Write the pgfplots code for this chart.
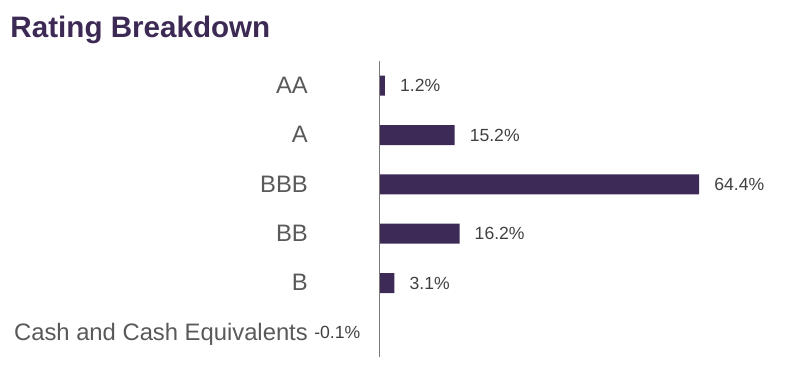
\documentclass[border=0pt]{standalone}
\usepackage{pgfplots}
\pgfplotsset{compat=1.18}
\usepackage{fontspec}
\setmainfont{Liberation Sans}
\definecolor{barpurple}{RGB}{62,42,86}
\definecolor{titlepurple}{RGB}{60,42,85}
\definecolor{catgray}{RGB}{89,89,89}
\definecolor{valgray}{RGB}{64,64,64}
\definecolor{axisgray}{RGB}{120,120,120}
\begin{document}
\begin{tikzpicture}[x=1bp,y=1bp]
\useasboundingbox (0,0) rectangle (786,373);
\node[anchor=base west, inner sep=0pt, text=titlepurple, font=\bfseries\fontsize{29.6bp}{33bp}\selectfont] at (10.3,336) {Rating Breakdown};
\begin{axis}[
  at={(374.03bp,16bp)}, anchor=south west,
  scale only axis, width=352.9bp, height=296bp,
  xmin=-1, xmax=70, ymin=-0.5, ymax=5.5, y dir=reverse,
  xbar, bar width=20bp, bar shift=0pt,
  axis line style={draw=none},
  xtick=\empty,
  ytick={0,1,2,3,4,5},
  yticklabels={AA,A,BBB,BB,B,Cash and Cash Equivalents},
  major tick length=0pt,
  yticklabel style={anchor=base east, inner sep=0pt, xshift=-66bp, yshift=-7.9bp,
    text=catgray, font=\fontsize{23.8bp}{28bp}\selectfont},
  /pgf/number format/assume math mode=true,
  clip=false,
  point meta=x,
  nodes near coords={\pgfmathprintnumber[fixed,fixed zerofill,precision=1]{\pgfplotspointmeta}\%},
  nodes near coords style={inner sep=0pt, text=valgray, font=\fontsize{17.6bp}{20bp}\selectfont},
]
\addplot[fill=barpurple, draw=none, nodes near coords style={anchor=west, xshift=15bp}] coordinates {
  (1.2,0) (15.2,1) (64.4,2) (16.2,3) (3.1,4)
};
\addplot[fill=barpurple, draw=none, nodes near coords style={anchor=east, xshift=-18bp}] coordinates {
  (-0.1,5)
};
\draw[axisgray, line width=1bp] (axis cs:0,-0.5) -- (axis cs:0,5.5);
\end{axis}
\end{tikzpicture}
\end{document}
